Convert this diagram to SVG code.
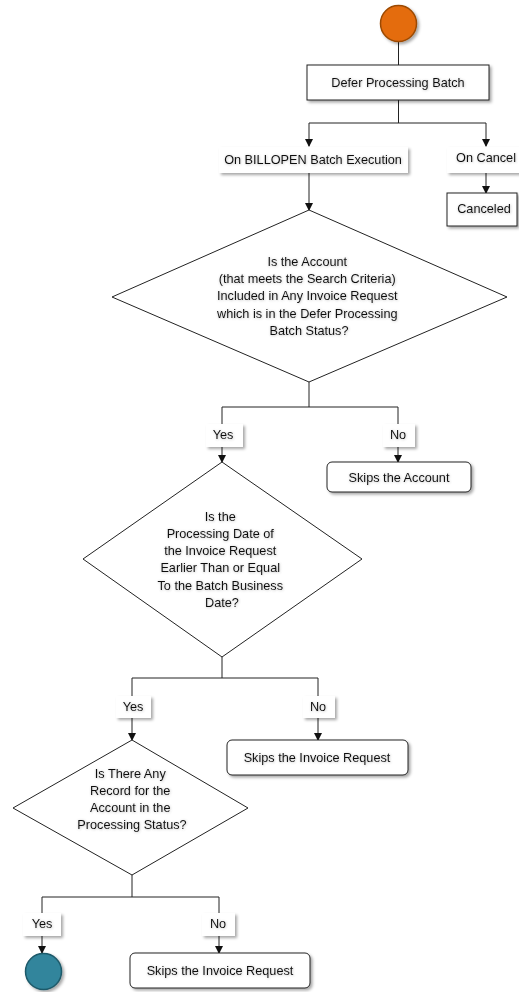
<svg xmlns="http://www.w3.org/2000/svg" width="519" height="992" viewBox="0 0 519 992">
<defs>
<style>
.t{font-family:"Liberation Sans",Arial,sans-serif;font-size:12.7px;fill:#111;text-anchor:middle}
.n{fill:#fff;stroke:#222;stroke-width:1}
.lbl{fill:#fff;stroke:none}
.c{fill:none;stroke:#222;stroke-width:1}
</style>
<marker id="ah" viewBox="0 0 8 8" refX="7" refY="4" markerWidth="8" markerHeight="8" markerUnits="userSpaceOnUse" orient="auto">
<path d="M0,0 L8,4 L0,8 z" fill="#111"/>
</marker>
<filter id="sh" x="-20%" y="-20%" width="150%" height="160%">
<feDropShadow dx="2" dy="2" stdDeviation="1.5" flood-color="#000" flood-opacity="0.35"/>
</filter>
<filter id="ts" x="-10%" y="-30%" width="120%" height="160%">
<feDropShadow dx="0.5" dy="0.5" stdDeviation="0.8" flood-color="#555" flood-opacity="0.4"/>
</filter>
</defs>

<g id="connectors">
<line class="c" x1="398.5" y1="42" x2="398.5" y2="65"/>
<polyline class="c" points="398.5,100 398.5,123"/>
<polyline class="c" points="309,123 486,123"/>
<line class="c" x1="309" y1="123" x2="309" y2="146" marker-end="url(#ah)"/>
<line class="c" x1="486" y1="123" x2="486" y2="146" marker-end="url(#ah)"/>
<line class="c" x1="486" y1="173" x2="486" y2="193" marker-end="url(#ah)"/>
<line class="c" x1="309" y1="173" x2="309" y2="210" marker-end="url(#ah)"/>
<polyline class="c" points="309,382 309,407"/>
<polyline class="c" points="222,424 222,407 398,407 398,424"/>
<line class="c" x1="222" y1="447" x2="222" y2="462" marker-end="url(#ah)"/>
<line class="c" x1="398" y1="447" x2="398" y2="462" marker-end="url(#ah)"/>
<polyline class="c" points="222,657 222,678"/>
<polyline class="c" points="132,696 132,678 318,678 318,696"/>
<line class="c" x1="132" y1="718" x2="132" y2="740" marker-end="url(#ah)"/>
<line class="c" x1="318" y1="718" x2="318" y2="740" marker-end="url(#ah)"/>
<polyline class="c" points="132,875 132,897"/>
<polyline class="c" points="42,913 42,897 219,897 219,913"/>
<line class="c" x1="42" y1="936" x2="42" y2="953" marker-end="url(#ah)"/>
<line class="c" x1="219" y1="936" x2="219" y2="953" marker-end="url(#ah)"/>
</g>

<g id="start">
<circle cx="398.5" cy="23.5" r="18" fill="#E46C0A" stroke="#9C4A06" stroke-width="1.5" filter="url(#sh)"/>
</g>

<g id="defer-processing-batch">
<rect class="n" x="307" y="65" width="182" height="35" filter="url(#sh)"/>
<text class="t" x="398" y="87" filter="url(#ts)">Defer Processing Batch</text>
</g>

<g id="on-billopen">
<rect class="lbl" x="219" y="147" width="189" height="26" filter="url(#sh)"/>
<text class="t" x="313" y="164" filter="url(#ts)">On BILLOPEN Batch Execution</text>
</g>

<g id="on-cancel">
<rect class="lbl" x="447" y="147" width="76" height="26" filter="url(#sh)"/>
<text class="t" x="486" y="162" filter="url(#ts)">On Cancel</text>
</g>

<g id="canceled">
<rect class="n" x="447" y="193" width="70" height="33" filter="url(#sh)"/>
<text class="t" x="484" y="213" filter="url(#ts)">Canceled</text>
</g>

<g id="decision-1">
<polygon class="n" points="309,210 507,297 309,382 112,297"/>
<text class="t" filter="url(#ts)">
<tspan x="309" y="266">Is the Account</tspan>
<tspan x="309" y="283">(that meets the Search Criteria)</tspan>
<tspan x="309" y="300">Included in Any Invoice Request</tspan>
<tspan x="309" y="318">which is in the Defer Processing</tspan>
<tspan x="309" y="335">Batch Status?</tspan>
</text>
</g>

<g id="yes-1">
<rect class="lbl" x="206" y="424" width="37" height="23" filter="url(#sh)"/>
<text class="t" x="223" y="439" filter="url(#ts)">Yes</text>
</g>
<g id="no-1">
<rect class="lbl" x="383" y="424" width="32" height="23" filter="url(#sh)"/>
<text class="t" x="398" y="439" filter="url(#ts)">No</text>
</g>

<g id="skips-account">
<rect class="n" x="327" y="462" width="144" height="30" rx="5" filter="url(#sh)"/>
<text class="t" x="399" y="482" filter="url(#ts)">Skips the Account</text>
</g>

<g id="decision-2">
<polygon class="n" points="222,462 362,559 222,657 83,559"/>
<text class="t" filter="url(#ts)">
<tspan x="222" y="521">Is the</tspan>
<tspan x="222" y="538">Processing Date of</tspan>
<tspan x="222" y="555">the Invoice Request</tspan>
<tspan x="222" y="572">Earlier Than or Equal</tspan>
<tspan x="222" y="590">To the Batch Business</tspan>
<tspan x="222" y="607">Date?</tspan>
</text>
</g>

<g id="yes-2">
<rect class="lbl" x="116" y="696" width="35" height="22" filter="url(#sh)"/>
<text class="t" x="133" y="711" filter="url(#ts)">Yes</text>
</g>
<g id="no-2">
<rect class="lbl" x="303" y="696" width="32" height="22" filter="url(#sh)"/>
<text class="t" x="318" y="711" filter="url(#ts)">No</text>
</g>

<g id="skips-invoice-1">
<rect class="n" x="227" y="740" width="181" height="35" rx="5" filter="url(#sh)"/>
<text class="t" x="317" y="762" filter="url(#ts)">Skips the Invoice Request</text>
</g>

<g id="decision-3">
<polygon class="n" points="132,740 248,808 132,875 13,808"/>
<text class="t" filter="url(#ts)">
<tspan x="132" y="778">Is There Any</tspan>
<tspan x="132" y="795">Record for the</tspan>
<tspan x="132" y="812">Account in the</tspan>
<tspan x="132" y="829">Processing Status?</tspan>
</text>
</g>

<g id="yes-3">
<rect class="lbl" x="23" y="913" width="38" height="23" filter="url(#sh)"/>
<text class="t" x="42" y="928" filter="url(#ts)">Yes</text>
</g>
<g id="no-3">
<rect class="lbl" x="202" y="913" width="33" height="23" filter="url(#sh)"/>
<text class="t" x="218" y="928" filter="url(#ts)">No</text>
</g>

<g id="end">
<circle cx="43.5" cy="971.5" r="18" fill="#31859C" stroke="#1F5A6A" stroke-width="1.5" filter="url(#sh)"/>
</g>

<g id="skips-invoice-2">
<rect class="n" x="130" y="953" width="180" height="35" rx="5" filter="url(#sh)"/>
<text class="t" x="220" y="975" filter="url(#ts)">Skips the Invoice Request</text>
</g>
</svg>
